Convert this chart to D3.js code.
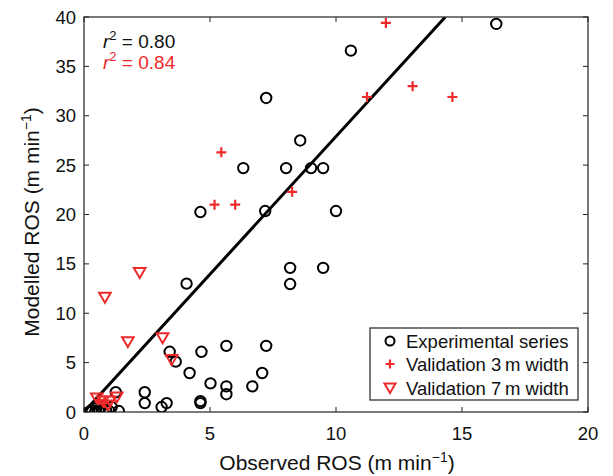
<!DOCTYPE html>
<html><head><meta charset="utf-8">
<script src="https://cdn.jsdelivr.net/npm/d3@7"></script>
<style>
body{margin:0;background:#fff;}
text{font-family:"Liberation Sans",Arial,Helvetica,sans-serif;}
</style></head>
<body><svg id="chart" width="613" height="476"></svg>
<script>
const xTicks=[0,5,10,15,20];
const yTicks=[0,5,10,15,20,25,30,35,40];
const expX=[16.36,10.59,7.23,8.58,6.32,8.02,9.01,9.49,4.62,7.19,10.0,8.18,9.49,8.18,4.07,3.4,3.64,4.19,4.66,5.65,7.23,7.07,6.68,5.65,5.65,5.02,4.62,4.62,3.28,3.08,2.41,2.41,1.26,1.38,0.3,0.45,0.6,0.75,0.87,1.0,0.5,0.67,0.2,1.1];
const expY=[39.3,36.6,31.8,27.5,24.7,24.7,24.7,24.7,20.25,20.35,20.35,14.6,14.6,12.96,13.0,6.1,5.1,3.95,6.1,6.7,6.7,3.95,2.6,2.6,1.8,2.9,1.1,0.9,0.9,0.5,2.0,0.9,2.0,0.1,0.2,0.0,0.1,0.1,0.2,0.1,0.4,0.5,0.0,0.5];
const v3X=[11.98,13.04,11.23,14.62,5.45,5.18,6.0,8.26,0.6,0.8];
const v3Y=[39.4,33.0,31.9,31.9,26.3,21.0,21.0,22.3,1.2,0.9];
const v7X=[2.21,0.83,1.74,3.12,3.48,0.51,0.75,1.03,1.3,0.95];
const v7Y=[14.1,11.6,7.1,7.5,5.3,1.4,1.1,1.1,1.5,0.7];
const fitSlope=2.79;
const r2Labels=["0.80","0.84"];
const legendLabels=["Experimental series","Validation 3\u2009m width","Validation 7\u2009m width"];

const RED="#ee2a2a";
const svg=d3.select("#chart");
const L=84,R=588,T=17,B=412;
const x=d3.scaleLinear().domain([0,20]).range([L,R]);
const y=d3.scaleLinear().domain([0,40]).range([B,T]);

svg.append("defs").append("clipPath").attr("id","clip").append("rect")
  .attr("x",L).attr("y",T).attr("width",R-L).attr("height",B-T);

const g=svg.append("g").attr("clip-path","url(#clip)");
const lineX=[0,40/fitSlope];
g.append("line").attr("x1",x(lineX[0])).attr("y1",y(fitSlope*lineX[0]))
  .attr("x2",x(lineX[1])).attr("y2",y(fitSlope*lineX[1]))
  .attr("stroke","#000").attr("stroke-width",3);

const exp=expX.map((d,i)=>[d,expY[i]]);
g.selectAll("circle.e").data(exp).join("circle").attr("class","e")
  .attr("cx",d=>x(d[0])).attr("cy",d=>y(d[1])).attr("r",5.2)
  .attr("fill","none").attr("stroke","#000").attr("stroke-width",2);

const triPath=s=>`M${-s},${-s*0.8}L${s},${-s*0.8}L0,${s*0.9}Z`;
const v7=v7X.map((d,i)=>[d,v7Y[i]]);
svg.selectAll("path.t").data(v7).join("path").attr("class","t")
  .attr("d",triPath(5.8)).attr("transform",d=>`translate(${x(d[0])},${y(d[1])})`)
  .attr("fill","none").attr("stroke",RED).attr("stroke-width",2);

const plusPath=s=>`M${-s},0L${s},0M0,${-s}L0,${s}`;
const v3=v3X.map((d,i)=>[d,v3Y[i]]);
svg.selectAll("path.p").data(v3).join("path").attr("class","p")
  .attr("d",plusPath(5)).attr("transform",d=>`translate(${x(d[0])},${y(d[1])})`)
  .attr("fill","none").attr("stroke",RED).attr("stroke-width",2.2);

const axCol="#222";
svg.append("rect").attr("x",L).attr("y",T).attr("width",R-L).attr("height",B-T)
  .attr("fill","none").attr("stroke",axCol).attr("stroke-width",1.2);
const tl=5;
xTicks.forEach(t=>{
  svg.append("line").attr("x1",x(t)).attr("x2",x(t)).attr("y1",B).attr("y2",B-tl).attr("stroke",axCol);
  svg.append("line").attr("x1",x(t)).attr("x2",x(t)).attr("y1",T).attr("y2",T+tl).attr("stroke",axCol);
  svg.append("text").attr("x",x(t)).attr("y",440).attr("text-anchor","middle")
    .attr("font-size",18.5).attr("fill","#111").text(t);
});
yTicks.forEach(t=>{
  svg.append("line").attr("x1",L).attr("x2",L+tl).attr("y1",y(t)).attr("y2",y(t)).attr("stroke",axCol);
  svg.append("line").attr("x1",R).attr("x2",R-tl).attr("y1",y(t)).attr("y2",y(t)).attr("stroke",axCol);
  svg.append("text").attr("x",76).attr("y",y(t)+6.5).attr("text-anchor","end")
    .attr("font-size",18.5).attr("fill","#111").text(t);
});

const xt=svg.append("text").attr("x",337).attr("y",470).attr("text-anchor","middle")
  .attr("font-size",21).attr("fill","#111");
xt.append("tspan").text("Observed ROS (m min");
xt.append("tspan").attr("dy",-8).attr("font-size",14).text("\u22121");
xt.append("tspan").attr("dy",8).text(")");

const yt=svg.append("text").attr("transform","translate(39,222) rotate(-90)")
  .attr("text-anchor","middle").attr("font-size",21).attr("fill","#111");
yt.append("tspan").text("Modelled ROS (m min");
yt.append("tspan").attr("dy",-8).attr("font-size",14).text("\u22121");
yt.append("tspan").attr("dy",8).text(")");

[["#111",48],[RED,69]].forEach((c,i)=>{
  const t=svg.append("text").attr("x",103).attr("y",c[1]).attr("font-size",19).attr("fill",c[0]);
  t.append("tspan").attr("font-style","italic").text("r");
  t.append("tspan").attr("dy",-8).attr("font-size",13).text("2");
  t.append("tspan").attr("dy",8).text(" = "+r2Labels[i]);
});

const lg=svg.append("g");
lg.append("rect").attr("x",370).attr("y",328).attr("width",208).attr("height",72)
  .attr("fill","#fff").attr("stroke",axCol).attr("stroke-width",1.2);
const ly=[341,364,388];
lg.append("circle").attr("cx",390).attr("cy",ly[0]).attr("r",4.5).attr("fill","none").attr("stroke","#000").attr("stroke-width",2);
lg.append("path").attr("d",plusPath(4.5)).attr("transform",`translate(390,${ly[1]})`).attr("stroke",RED).attr("stroke-width",2.2);
lg.append("path").attr("d",triPath(5.5)).attr("transform",`translate(390,${ly[2]})`).attr("fill","none").attr("stroke",RED).attr("stroke-width",2);
legendLabels.forEach((s,i)=>{
  lg.append("text").attr("x",406).attr("y",ly[i]+6.5).attr("font-size",18.5).attr("fill","#111").text(s);
});
</script></body></html>
